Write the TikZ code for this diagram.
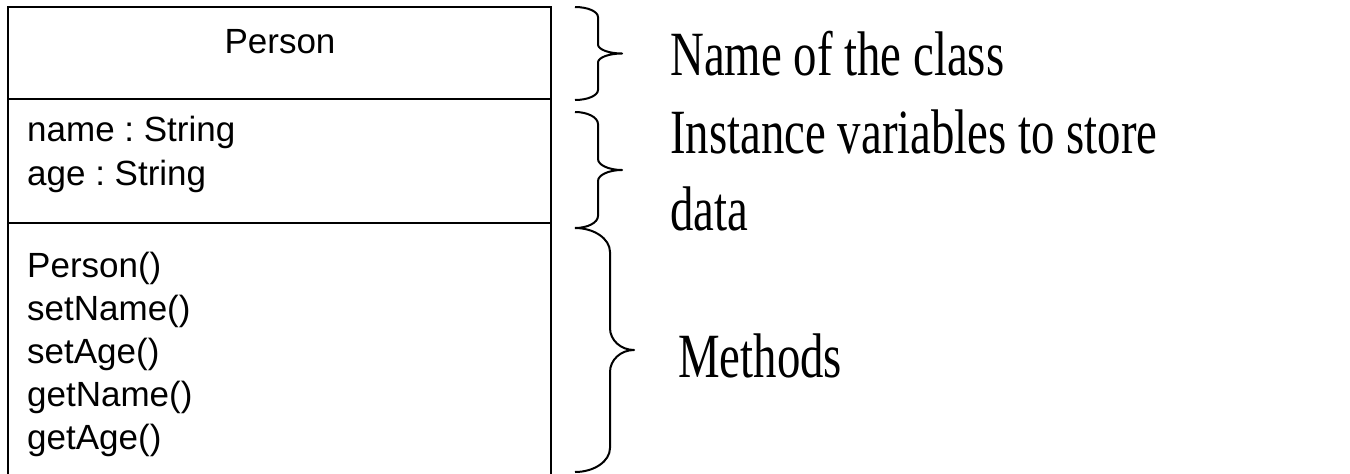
\documentclass[tikz,border=0pt]{standalone}
\usepackage{fontspec}
\usepackage{graphicx}
\setmainfont{Liberation Serif}
\newfontfamily\arialf{Liberation Sans}
\frenchspacing
\tikzset{
  boxline/.style={draw=black, line width=2pt},
  bracel/.style={draw=black, line width=2pt, line join=round},
  umltext/.style={inner sep=0pt, font=\arialf\fontsize{35}{35}\selectfont},
  notetext/.style={inner sep=0pt, font=\fontsize{63}{63}\selectfont},
}
\newcommand{\narrow}[1]{\scalebox{0.743}[1]{#1}}
% x0 xv xt y1 ym y2 r1 r2
\newcommand{\bracepath}[8]{%
  \draw[bracel] (#1,#4) .. controls ({#1+0.55*(#2-#1)},#4) and (#2,{#4+0.45*#7}) .. (#2,{#4+#7})
    -- (#2,{#5-#8}) .. controls (#2,{#5-0.45*#8}) and ({#3-0.55*(#3-#2)},#5) .. (#3,#5)
    .. controls ({#3-0.55*(#3-#2)},#5) and (#2,{#5+0.45*#8}) .. (#2,{#5+#8})
    -- (#2,{#6-#7}) .. controls (#2,{#6-0.45*#7}) and ({#1+0.55*(#2-#1)},#6) .. (#1,#6);}
\begin{document}
\begin{tikzpicture}[x=1pt,y=-1pt]
\useasboundingbox (0,0) rectangle (1350,474);
% class box
\draw[boxline] (8,485) -- (8,7) -- (551,7) -- (551,485);
\draw[boxline] (8,99) -- (551,99);
\draw[boxline] (8,223) -- (551,223);
% texts in box
\node[umltext, anchor=base] (title) at (280,53) {Person};
\node[umltext, anchor=base west] (attr1) at (27,141) {name : String};
\node[umltext, anchor=base west] (attr2) at (27,185) {age : String};
\node[umltext, anchor=base west] (m1) at (27,277) {Person()};
\node[umltext, anchor=base west] (m2) at (27,320) {setName()};
\node[umltext, anchor=base west] (m3) at (27,363) {setAge()};
\node[umltext, anchor=base west] (m4) at (27,406) {getName()};
\node[umltext, anchor=base west] (m5) at (27,449) {getAge()};
% braces
\bracepath{575}{598}{622}{7}{53.5}{100}{10}{9}
\bracepath{575}{598}{622}{112}{170}{228}{12}{11}
\bracepath{575}{610}{634}{228}{350}{472}{24}{22}
% notes
\node[notetext, anchor=base west] (n1) at (670,75) {\narrow{Name of the class}};
\node[notetext, anchor=base west] (n2) at (670,153) {\narrow{Instance variables to store}};
\node[notetext, anchor=base west] (n3) at (670,230) {\narrow{data}};
\node[notetext, anchor=base west] (n4) at (678,377) {\narrow{Methods}};
\end{tikzpicture}
\end{document}
